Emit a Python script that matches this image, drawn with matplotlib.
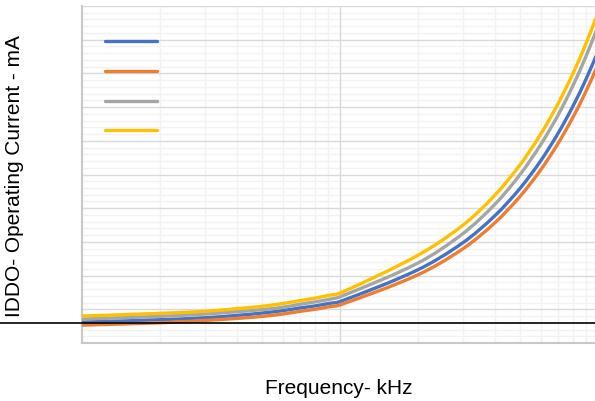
import numpy as np
import matplotlib.pyplot as plt
from matplotlib.lines import Line2D
from matplotlib.path import Path
from matplotlib.patches import PathPatch
from matplotlib.ticker import FixedLocator, NullFormatter, MultipleLocator

plt.rcParams['font.family'] = ['Liberation Sans', 'DejaVu Sans']

# frequency points (kHz), log axis 1..100
freq = [1, 2, 3, 4, 5, 6, 7, 8, 9, 10, 20, 30, 40, 50, 60, 70, 80, 90, 100]

# operating current (mA) per series
blue = [0.62, 0.69, 0.75, 0.82, 0.89, 0.96, 1.04, 1.10, 1.17, 1.23,
        2.17, 2.98, 3.79, 4.60, 5.41, 6.22, 7.03, 7.84, 8.65]
orange = [0.53, 0.60, 0.67, 0.73, 0.79, 0.86, 0.94, 1.00, 1.07, 1.13,
          2.02, 2.80, 3.58, 4.36, 5.14, 5.92, 6.70, 7.48, 8.26]
gray = [0.71, 0.79, 0.86, 0.93, 0.99, 1.06, 1.15, 1.22, 1.29, 1.37,
        2.37, 3.25, 4.13, 5.01, 5.89, 6.76, 7.64, 8.52, 9.40]
yellow = [0.80, 0.88, 0.94, 1.02, 1.09, 1.17, 1.26, 1.33, 1.41, 1.48,
          2.60, 3.50, 4.40, 5.30, 6.20, 7.10, 8.00, 8.90, 9.80]

series = [(blue, '#4472C4'), (orange, '#ED7D31'), (gray, '#A5A5A5'), (yellow, '#FFC000')]
ref_level = 0.60  # black reference line


def smooth_path(xs, ys):
    # smoothed line like Excel's: cubic bezier through the points, in log-x space
    u = np.log10(xs)
    y = np.asarray(ys, dtype=float)
    n = len(u)
    m = np.empty(n)
    m[0] = (y[1] - y[0]) / (u[1] - u[0])
    m[-1] = (y[-1] - y[-2]) / (u[-1] - u[-2])
    m[1:-1] = (y[2:] - y[:-2]) / (u[2:] - u[:-2])
    verts = [(u[0], y[0])]
    codes = [Path.MOVETO]
    for i in range(n - 1):
        h = (u[i + 1] - u[i]) / 3
        verts += [(u[i] + h, y[i] + m[i] * h), (u[i + 1] - h, y[i + 1] - m[i + 1] * h),
                  (u[i + 1], y[i + 1])]
        codes += [Path.CURVE4] * 3
    verts = np.array(verts)
    verts[:, 0] = 10 ** verts[:, 0]
    return Path(verts, codes)


fig = plt.figure(figsize=(5.95, 4.02), dpi=100)
ax = fig.add_axes([82 / 595, 58 / 402, 516 / 595, 337 / 402])

handles = []
for vals, col in series:
    ax.add_patch(PathPatch(smooth_path(freq, vals), facecolor='none', edgecolor=col,
                           lw=2.4, capstyle='round', zorder=3))
    handles.append(Line2D([], [], color=col, lw=2.4, solid_capstyle='round'))

ax.set_xscale('log')
ax.set_xlim(1, 100)
ax.set_ylim(0, 10)

ax.xaxis.set_major_locator(FixedLocator([1, 10, 100]))
ax.xaxis.set_minor_locator(FixedLocator([2, 3, 4, 5, 6, 7, 8, 9, 20, 30, 40, 50, 60, 70, 80, 90]))
ax.yaxis.set_major_locator(MultipleLocator(1))
ax.yaxis.set_minor_locator(MultipleLocator(0.2))
ax.xaxis.set_major_formatter(NullFormatter())
ax.xaxis.set_minor_formatter(NullFormatter())
ax.yaxis.set_major_formatter(NullFormatter())
ax.tick_params(which='both', length=0)

# minor grid from the axes, major lines drawn above it
ax.grid(which='minor', color='#f2f2f2', lw=1.0)
ax.set_axisbelow(True)
for xv in [10, 100]:
    ax.axvline(xv, color='#d9d9d9', lw=1.0, zorder=0.7)
for yv in range(1, 11):
    ax.axhline(yv, color='#d9d9d9', lw=1.0, zorder=0.7)

for s in ['top', 'right']:
    ax.spines[s].set_visible(False)
for s in ['left', 'bottom']:
    ax.spines[s].set_color('#c8c8c8')
    ax.spines[s].set_linewidth(1.5)

ax.axhline(ref_level, xmin=-82 / 516, xmax=1, color='black', lw=1.2, clip_on=False, zorder=4)

ax.legend(handles, [' '] * 4, loc='upper left', bbox_to_anchor=(0.0446, 0.913),
          frameon=False, fontsize=10, handlelength=3.75, handletextpad=0, borderpad=0,
          borderaxespad=0, labelspacing=1.12)

fig.text(15 / 595, 1 - 176 / 402, 'IDDO- Operating Current - mA', rotation=90,
         ha='center', va='center', fontsize=15)
fig.text(339 / 595, 1 - 389 / 402, 'Frequency- kHz', ha='center', va='center', fontsize=15)

fig.savefig('out.png', dpi=100)
